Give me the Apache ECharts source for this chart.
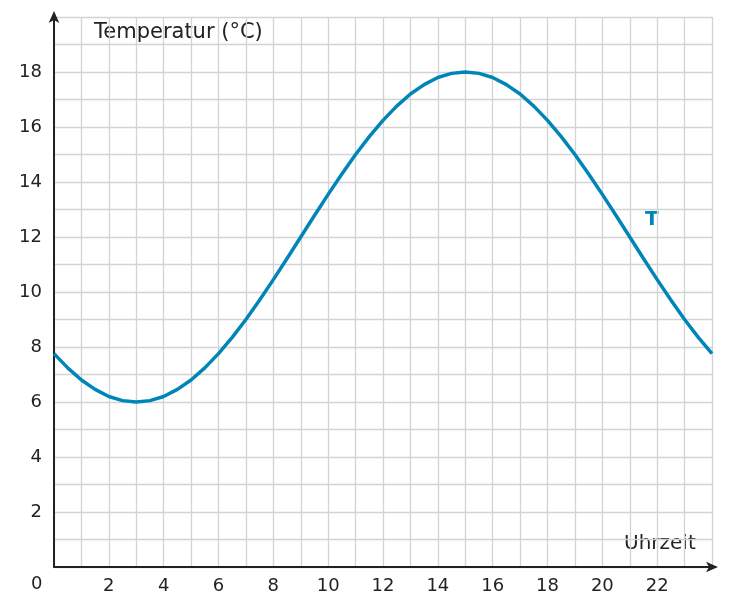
<!DOCTYPE html><html><head><meta charset="utf-8"><script src="https://cdn.jsdelivr.net/npm/echarts@6/dist/echarts.min.js"></script></head><body style="margin:0"><div id="c" style="width:731px;height:615px"></div><script>
const hours=[0,0.5,1,1.5,2,2.5,3,3.5,4,4.5,5,5.5,6,6.5,7,7.5,8,8.5,9,9.5,10,10.5,11,11.5,12,12.5,13,13.5,14,14.5,15,15.5,16,16.5,17,17.5,18,18.5,19,19.5,20,20.5,21,21.5,22,22.5,23,23.5,24];
const temps=[7.76,7.24,6.8,6.46,6.2,6.05,6.0,6.05,6.2,6.46,6.8,7.24,7.76,8.35,9.0,9.71,10.45,11.22,12.0,12.78,13.55,14.29,15.0,15.65,16.24,16.76,17.2,17.54,17.8,17.95,18.0,17.95,17.8,17.54,17.2,16.76,16.24,15.65,15.0,14.29,13.55,12.78,12.0,11.22,10.45,9.71,9.0,8.35,7.76];
const yTitle='Temperatur (°C)', xTitle='Uhrzeit', seriesName='T';
const ch=echarts.init(document.getElementById('c'));
const font='"DejaVu Sans"';
const ax={type:'value',interval:1,
 axisLine:{show:true,onZero:false,lineStyle:{color:'#222',width:2},symbol:['none','arrow'],symbolSize:[8,12],symbolOffset:[0,6]},
 axisTick:{show:false},
 splitLine:{show:true,lineStyle:{color:'#d3d3d3',width:1.3}},
 axisLabel:{color:'#222',fontSize:18,fontFamily:font}};
ch.setOption({animation:false,
grid:{left:54,right:19,top:17,bottom:48},
xAxis:Object.assign({},ax,{min:0,max:24,axisLabel:Object.assign({},ax.axisLabel,{margin:10,formatter:v=>(v%2===0&&v>0&&v<24)?String(v):''})}),
yAxis:Object.assign({},ax,{min:0,max:20,axisLabel:Object.assign({},ax.axisLabel,{margin:12,formatter:v=>(v%2===0&&v>0&&v<20)?String(v):''})}),
series:[{type:'line',name:seriesName,smooth:false,showSymbol:false,data:hours.map((h,i)=>[h,temps[i]]),lineStyle:{color:'#0085b8',width:3.5,join:'round'},z:5}],
graphic:[
 {type:'text',left:94,top:22,style:{text:yTitle,fontSize:21,fontFamily:font,fill:'#222'}},
 {type:'text',left:624,top:534,style:{text:xTitle,fontSize:20,fontFamily:font,fill:'#222'}},
 {type:'text',left:31,top:575,style:{text:'0',fontSize:18,fontFamily:font,fill:'#222'}},
 {type:'text',left:645,top:210,style:{text:seriesName,fontSize:20,fontWeight:'bold',fontFamily:font,fill:'#0085b8'}}
]});
</script></body></html>
